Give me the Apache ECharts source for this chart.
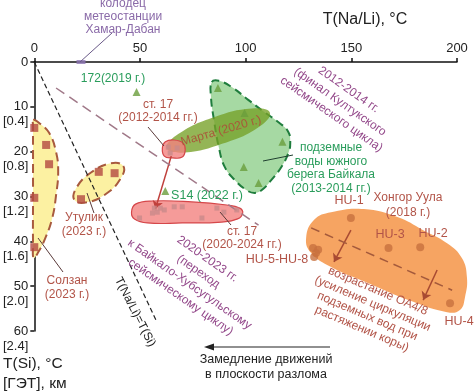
<!DOCTYPE html>
<html><head><meta charset="utf-8">
<script src="https://cdn.jsdelivr.net/npm/echarts@6/dist/echarts.min.js"></script>
<style>html,body{margin:0;padding:0;background:#fff}#c{width:476px;height:392px}</style>
</head><body><div id="c"></div>
<script>
// ---- axis ticks ----
const xTicks = [0, 50, 100, 150, 200];
const yTicks = [0, 10, 20, 30, 40, 50, 60];
const yDepthLabels = ['', '[0.4]', '[0.8]', '[1.2]', '[1.6]', '[2.0]', '[2.4]'];

// ---- points [T(Na/Li), T(Si)] ----
const solzanPts = [[0,14.7],[5.6,18.5],[7.0,22.8],[0,30.3],[0,41.3]];
const utulikPts = [[30.5,24.5],[38.0,24.8],[22.1,30.6]];
const greenTriPts = [[48.4,6.7],[86.9,5.8],[99.5,11.4],[117.4,17.8],[99.1,23.4],[106.1,27.0],[62.0,28.8]];
const martaCross = [[92.0,12.3],[107.0,12.3]];
const st17OldPts = [[63.4,19.0],[67.6,19.2],[64.3,20.3]];
const st17NewPts = [[56.8,32.6],[58.2,33.5],[59.6,32.6],[61.5,33.0],[66.2,32.3],[70.0,32.3],[79.3,34.8],[86.4,32.6],[89.7,33.5],[95.8,33.0],[49.8,34.8],[55.9,33.7]];
const huPts = [[149.8,34.8],[167.6,41.5],[182.6,41.3],[196.7,53.8],[131.9,41.5],[133.3,42.6],[132.4,43.5],[134.3,41.9]];
const hamarPt = [[22.1,0]];

// ---- region outlines (data coords) ----
const greenRegion = [[84.0,4.5],[87.3,4.2],[93.4,5.6],[101.4,8.5],[108.9,11.2],[116.0,13.6],[120.2,15.6],[121.1,18.1],[120.2,20.3],[116.9,23.4],[112.2,26.3],[107.5,28.6],[104.2,29.2],[100.5,28.6],[94.8,26.3],[90.1,23.4],[87.3,19.0],[85.0,12.9],[83.6,7.8]];
const martaRegion = [[111.5,11.3],[105.9,14.6],[89.2,18.2],[71.3,20.2],[62.6,19.2],[68.3,16.0],[85.0,12.3],[102.9,10.35]];
const utulikRegion = [[42.1,23.2],[41.0,25.9],[34.0,29.4],[24.9,31.3],[19.0,30.8],[20.0,28.0],[27.0,24.6],[36.2,22.6]];
const solzanRegion = [[-0.5,12.9],[2.3,13.6],[7.0,15.8],[10.3,20.1],[11.3,24.5],[10.3,29.7],[8.5,34.8],[5.2,39.3],[1.9,42.4],[-0.3,43.7],[-0.6,40.8],[-0.6,30.8],[-0.6,19.6],[-0.6,14.1]];
const st17OldRegion = [[60.6,19.2],[62.0,17.8],[66.2,17.4],[70.4,18.1],[71.4,19.6],[70.0,21.2],[65.3,21.4],[61.5,21.0]];
const st17NewRegion = [[46.0,33.5],[47.9,31.7],[55.9,31.0],[74.6,31.2],[91.1,31.9],[97.2,32.6],[98.6,33.7],[96.2,35.0],[88.7,35.7],[70.0,35.9],[53.5,35.9],[47.4,35.0]];
const orangeRegion = [[132.4,35.2],[140.4,33.5],[155.9,32.8],[171.8,34.6],[184.0,37.5],[195.3,40.4],[202.3,43.7],[204.7,48.0],[203.8,52.4],[201.4,55.3],[195.3,55.8],[179.3,53.5],[155.9,48.9],[140.4,45.7],[131.0,42.6],[128.6,39.3]];

// ---- lines & arrows ----
const identityLine = [[0,0],[58,58]];
const kultukLine = [[10.3,5.8],[106.1,36.4]];
const hongorLine = [[131.0,37.0],[197.7,50.9]];
const st17Arrow = [[64.8,21.0],[57.3,32.8]];
const huArrows = [[[149.8,37.5],[141.8,44.6]],[[190.6,46.4],[184.0,53.1]]];

const FONT = '"Liberation Sans", Arial, sans-serif';
const BR = '#b25448', GR = '#2a9d5c', PU = '#93488a';

function region(name, pts, style, z) {
  return {
    type: 'custom', name: name, coordinateSystem: 'cartesian2d', z: z, silent: true, clip: false,
    data: [[0, 0]],
    renderItem: function (params, api) {
      return { type: 'polygon', shape: { points: pts.map(function (p) { return api.coord(p); }), smooth: 0.45 }, style: style };
    }
  };
}
function lineS(data, color, width, dash, z) {
  return { type: 'line', data: data, showSymbol: false, silent: true, clip: false, z: z,
    lineStyle: { color: color, width: width, type: dash } };
}
function scat(data, symbol, size, color, z) {
  return { type: 'scatter', data: data, symbol: symbol, symbolSize: size, clip: false, silent: true, z: z,
    itemStyle: { color: color } };
}
function txt(x, y, text, color, opts) {
  opts = opts || {};
  return { type: 'text', x: x, y: y, rotation: (opts.rot || 0) * Math.PI / 180, z: 100,
    style: { text: text, fill: color, font: (opts.size || 12) + 'px ' + FONT, align: opts.align || 'center',
      verticalAlign: 'middle', lineHeight: opts.lh || 14 } };
}
function seg(x1, y1, x2, y2, color) {
  return { type: 'line', z: 99, shape: { x1: x1, y1: y1, x2: x2, y2: y2 }, style: { stroke: color, lineWidth: 1 } };
}

const chart = echarts.init(document.getElementById('c'), null, { renderer: 'canvas' });
chart.setOption({
  animation: false,
  backgroundColor: '#fff',
  grid: { left: 31, right: 19, top: 62, bottom: 61, containLabel: false },
  xAxis: {
    type: 'value', position: 'top', min: xTicks[0], max: xTicks[xTicks.length - 1], interval: 50,
    axisLine: { onZero: false, lineStyle: { color: '#111', width: 1.5 } },
    axisTick: { show: true, length: 4, lineStyle: { color: '#111', width: 1.5 } },
    axisLabel: { fontSize: 13, fontFamily: FONT, color: '#222', margin: 7 },
    splitLine: { show: false }
  },
  yAxis: {
    type: 'value', inverse: true, min: yTicks[0], max: yTicks[yTicks.length - 1], interval: 10,
    axisLine: { onZero: false, lineStyle: { color: '#111', width: 1.5 } },
    axisTick: { show: true, length: 4, lineStyle: { color: '#111', width: 1.5 } },
    axisLabel: { fontSize: 13, fontFamily: FONT, color: '#222', margin: 6, lineHeight: 15,
      formatter: function (v) { var i = yTicks.indexOf(v); var d = yDepthLabels[i]; return d ? '\n' + v + '\n' + d : String(v); } },
    splitLine: { show: false }
  },
  series: [
    region('green', greenRegion, { fill: '#a6d9a3', stroke: '#1f7d3d', lineWidth: 2, lineDash: [8, 5] }, 1),
    region('marta', martaRegion, { fill: 'rgba(118,160,38,0.78)' }, 2),
    region('solzan', solzanRegion, { fill: '#fcf1a2', stroke: '#a85a3e', lineWidth: 2, lineDash: [9, 5] }, 2),
    region('utulik', utulikRegion, { fill: '#fcf1a2', stroke: '#a85a3e', lineWidth: 2, lineDash: [9, 5] }, 2),
    region('orange', orangeRegion, { fill: '#f6a462' }, 2),
    region('st17old', st17OldRegion, { fill: 'rgba(242,130,128,0.8)', stroke: '#d5474a', lineWidth: 1.2 }, 3),
    region('st17new', st17NewRegion, { fill: 'rgba(242,130,128,0.8)', stroke: '#d5474a', lineWidth: 1.2 }, 3),
    lineS(identityLine, '#222', 1.2, [5, 3], 4),
    lineS(kultukLine, '#a07888', 1.5, [10, 6], 4),
    lineS(hongorLine, '#a45a3c', 1.5, [9, 6], 4),
    { type: 'lines', coordinateSystem: 'cartesian2d', z: 4, silent: true, symbol: ['none', 'arrow'], symbolSize: 8,
      lineStyle: { color: '#c0403c', width: 1.5, opacity: 1 }, data: [{ coords: st17Arrow }] },
    { type: 'lines', coordinateSystem: 'cartesian2d', z: 4, silent: true, symbol: ['none', 'arrow'], symbolSize: 8,
      lineStyle: { color: '#a84a32', width: 1.5, opacity: 1 }, data: huArrows.map(function (c) { return { coords: c }; }) },
    scat(solzanPts.concat(utulikPts), 'rect', 8, '#b34a42', 5),
    scat(greenTriPts, 'triangle', 8, '#6a9e3c', 5),
    scat(st17OldPts.concat(st17NewPts), 'rect', 5, '#c98a8a', 5),
    scat(martaCross, 'path://M0,0L10,10M10,0L0,10M5,0L5,10', 6, '#5b8db8', 5),
    scat(huPts, 'circle', 8, '#c8703e', 5),
    scat(hamarPt, 'rect', [9, 4], '#8e77b5', 5)
  ],
  graphic: [
    txt(365, 20, 'T(Na/Li), °C', '#222', { size: 16 }),
    txt(3, 364, 'T(Si), °C', '#222', { size: 15.5, align: 'left' }),
    txt(3, 384, '[ГЭТ], км', '#222', { size: 15.5, align: 'left' }),
    txt(123, 17, 'колодец\nметеостанции\nХамар-Дабан', '#8a6aa8', { lh: 13 }),
    seg(112, 33, 80, 62, '#6a5a88'),
    txt(113, 79, '172(2019 г.)', GR),
    txt(158, 111, 'ст. 17\n(2012-2014 гг.)', BR, { lh: 13 }),
    seg(148, 127, 164, 146, '#5a3a3a'),
    txt(221, 131, 'Марта (2020 г.)', '#a8583a', { rot: 16 }),
    txt(207, 196, 'S14 (2022 г.)', GR, { size: 12.5 }),
    txt(242, 238, 'ст. 17\n(2020-2024 гг.)', BR, { lh: 13 }),
    seg(220, 212, 231, 225, '#5a3a3a'),
    txt(84, 225, 'Утулик\n(2023 г.)', BR),
    seg(87, 193, 94, 213, '#5a3a3a'),
    txt(67, 288, 'Солзан\n(2023 г.)', BR),
    seg(38, 238, 63, 272, '#5a3a3a'),
    txt(331, 168, 'подземные\nводы южного\nберега Байкала\n(2013-2014 гг.)', GR, { lh: 13.5 }),
    seg(263, 161, 293, 155, '#1f3f2f'),
    txt(408, 205, 'Хонгор Уула\n(2018 г.)', BR, { lh: 15 }),
    txt(349, 201, 'HU-1', BR, { size: 12.5 }),
    txt(390, 235, 'HU-3', BR, { size: 12.5 }),
    txt(433, 234, 'HU-2', BR, { size: 12.5 }),
    txt(459, 322, 'HU-4', BR, { size: 12.5 }),
    txt(277, 260, 'HU-5-HU-8', BR, { size: 12.5 }),
    txt(370, 310, 'возрастание ОА4/8\n(усиление циркуляции\nподземных вод при\nрастяжении коры)', BR, { rot: -23, lh: 13.7 }),
    txt(340, 102, '2012-2014 гг.\n(финал Култукского\nсейсмического цикла)', PU, { rot: -35, lh: 15 }),
    txt(194, 278, '2020-2023 гг.\n(переход\nк Байкало-Хубсугульскому\nсейсмическому циклу)', PU, { rot: -35, lh: 15.5 }),
    txt(135, 312, 'T(Na/Li)=T(Si)', '#222', { rot: -63, size: 12 }),
    txt(266, 367, 'Замедление движений\nв плоскости разлома', '#222', { lh: 15, size: 12.5 }),
    { type: 'line', z: 99, shape: { x1: 212, y1: 347, x2: 330, y2: 347 }, style: { stroke: '#222', lineWidth: 1.2 } },
    { type: 'polygon', z: 99, shape: { points: [[204, 347], [214, 343.5], [214, 350.5]] }, style: { fill: '#222' } }
  ]
});
</script>
</body></html>
